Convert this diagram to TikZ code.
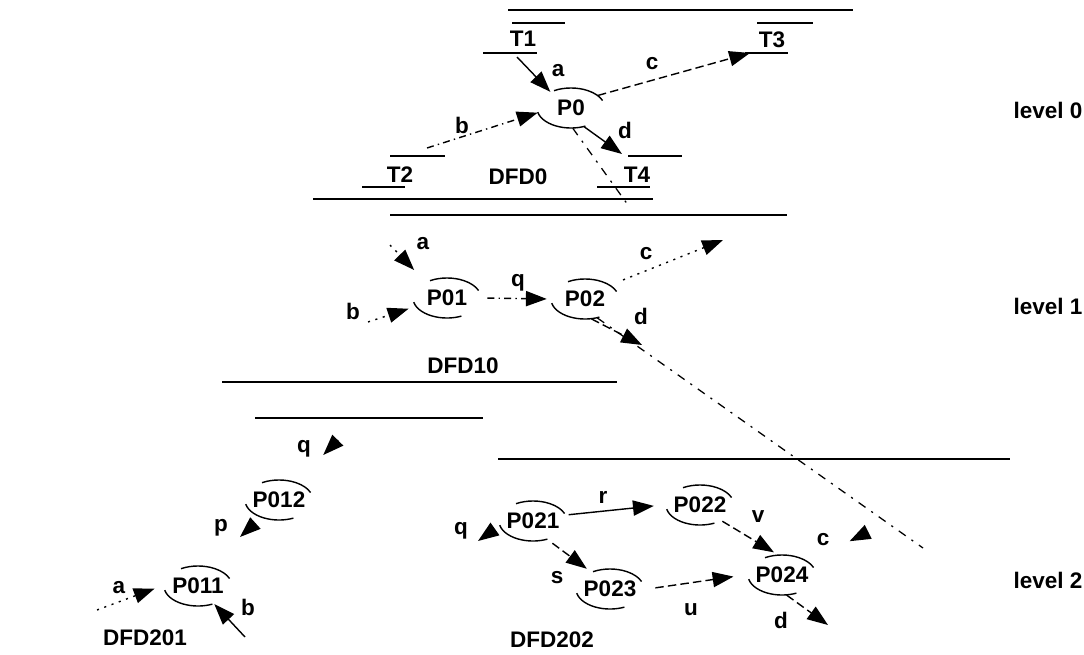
\documentclass[tikz,border=0pt]{standalone}
\usepackage{fontspec}
\setmainfont{Liberation Sans}
\usetikzlibrary{arrows.meta, shapes.geometric}

\newcommand\procarcs[1]{%
  \draw[arcline] ([shift={(120:0.85cm and 0.5cm)}]#1.center) arc[start angle=120, end angle=22, x radius=0.85cm, y radius=0.5cm];
  \draw[arcline] ([shift={(192:0.85cm and 0.5cm)}]#1.center) arc[start angle=192, end angle=295, x radius=0.85cm, y radius=0.5cm];}

\begin{document}
\begin{tikzpicture}[x=0.025cm, y=-0.025cm, > = {Triangle[length=5.2mm, width=3.8mm]},
    every node/.style={font=\bfseries\fontsize{16}{19}\selectfont, inner sep=1pt},
    proc/.style={ellipse, minimum width=1.7cm, minimum height=1cm, inner sep=0pt},
    rule/.style={line width=1.1pt},
    arcline/.style={line width=1pt},
    flow/.style={->, line width=1pt},
    dflow/.style={flow, dash pattern=on 6pt off 3pt},
    ddflow/.style={flow, dash pattern=on 5pt off 3pt on 1pt off 3pt},
    oflow/.style={flow, dash pattern=on 1.5pt off 4pt},
    headonly/.style={flow},
    refine/.style={line width=0.9pt, dash pattern=on 6pt off 5pt on 1.5pt off 5pt}]

  \useasboundingbox (0,0) rectangle (1084,655);

  % level 0
  \draw[rule] (508,10) -- (853,10);
  \draw[rule] (512,23) -- (565,23) (483,53) -- (537,53);
  \draw[rule] (757,23) -- (813,23) (745,53) -- (788,53);
  \draw[rule] (390,156) -- (445,156) (362,187) -- (405,187);
  \draw[rule] (628,156) -- (682,156) (597,187) -- (650,187);
  \draw[rule] (313,199) -- (653,199);

  \node (T1) at (523,39) {T1};
  \node (T2) at (400,175) {T2};
  \node (T3) at (772,40) {T3};
  \node (T4) at (637,175) {T4};
  \node[proc] (P0) at (571,108) {P0};
  \node (DFD0) at (518,177) {DFD0};
  \node[anchor=west] (lv0) at (1012,110) {level 0};

  \coordinate (t1o) at (517,57);
  \coordinate (t2o) at (427,148);
  \coordinate (t3i) at (750,53);
  \coordinate (t4i) at (622,154);
  \coordinate (r0) at (628,205);

  \procarcs{P0}
  \draw[flow] (t1o) -- (P0.142);
  \draw[ddflow] (t2o) -- (P0.188);
  \draw[dflow] (P0.25) -- (t3i);
  \draw[flow] (P0.-55) -- (t4i);
  \draw[refine] (P0.-85) -- (r0);

  \node (la0) at (558,71) {a};
  \node (lb0) at (462,125) {b};
  \node (lc0) at (652,64) {c};
  \node (ld0) at (625,130) {d};

  % level 1
  \draw[rule] (390,215) -- (787,215);
  \draw[rule] (222,382) -- (617,382);

  \node[proc] (P01) at (447,298) {P01};
  \node[proc] (P02) at (585,299) {P02};
  \node (DFD10) at (463,366) {DFD10};
  \node[anchor=west] (lv1) at (1012,306) {level 1};

  \coordinate (a1s) at (390,245);
  \coordinate (b1s) at (368,322);
  \coordinate (c1e) at (723,240);
  \coordinate (d1e) at (642,345);
  \coordinate (r1e) at (923,548);

  \procarcs{P01}
  \procarcs{P02}
  \draw[oflow, shorten >=0.42cm] (a1s) -- (P01.143);
  \draw[oflow, shorten >=0.19cm] (b1s) -- (P01.195);
  \draw[ddflow, shorten <=0.15cm, shorten >=0.1cm] (P01.east) -- (P02.west);
  \draw[oflow, shorten <=0.35cm] (P02.29) -- (c1e);
  \draw[dflow] (P02.-72) -- (d1e);
  \draw[refine] (P02.-57) -- (r1e);

  \node (la1) at (423,244) {a};
  \node (lb1) at (353,311) {b};
  \node (lq1) at (518,283) {q};
  \node (lc1) at (646,254) {c};
  \node (ld1) at (641,316) {d};

  % level 2
  \draw[rule] (255,418) -- (483,418);
  \draw[rule] (498,459) -- (1010,459);

  \node[proc] (P012) at (279,500) {P012};
  \node[proc] (P011) at (198,586) {P011};
  \node (DFD201) at (145,638) {DFD201};

  \coordinate (q2i) at (338,440);
  \coordinate (pout) at (240,537);
  \coordinate (a2s) at (97,610);
  \coordinate (b2s) at (245,637);

  \procarcs{P012}
  \procarcs{P011}
  \draw[headonly, shorten >=0.95cm] (q2i) -- (P012);
  \draw[headonly, shorten <=0.22cm] (P012.225) -- (pout);
  \draw[oflow, shorten >=0.18cm] (a2s) -- (P011.180);
  \draw[flow] (b2s) -- (P011.-48);

  \node (lq2) at (304,449) {q};
  \node (lp2) at (221,528) {p};
  \node (la2) at (119,588) {a};
  \node (lb2) at (248,607) {b};

  \node[proc] (P021) at (533,521) {P021};
  \node[proc] (P022) at (700,505) {P022};
  \node[proc] (P023) at (610,589) {P023};
  \node[proc] (P024) at (782,575) {P024};
  \node (DFD202) at (552,640) {DFD202};
  \node[anchor=west] (lv2) at (1012,580) {level 2};

  \coordinate (q3o) at (478,541);
  \coordinate (c3i) at (868,532);
  \coordinate (d3o) at (828,625);

  \procarcs{P021}
  \procarcs{P022}
  \procarcs{P023}
  \procarcs{P024}
  \draw[headonly, shorten <=0.13cm] (P021.190) -- (q3o);
  \draw[flow, shorten >=0.22cm] (P021.10) -- (P022.west);
  \draw[dflow, shorten >=0.12cm] (P022.-36) -- (P024.101);
  \draw[dflow, shorten <=0.15cm, shorten >=0.12cm] (P021.-52) -- (P023.138);
  \draw[dflow, shorten <=0.2cm, shorten >=0.28cm] (P023.east) -- (P024.west);
  \draw[dflow] (P024.-77) -- (d3o);
  \draw[headonly, shorten >=1.12cm] (c3i) -- (P024);

  \node (lq3) at (461,531) {q};
  \node (lr3) at (603,497) {r};
  \node (ls3) at (557,578) {s};
  \node (lv3) at (758,517) {v};
  \node (lc3) at (823,540) {c};
  \node (lu3) at (691,610) {u};
  \node (ld3) at (781,620) {d};
\end{tikzpicture}
\end{document}
